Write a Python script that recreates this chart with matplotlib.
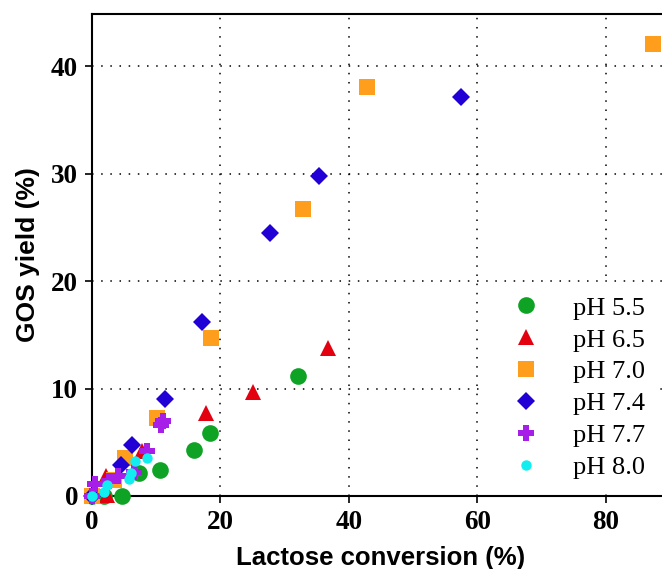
import matplotlib
matplotlib.use("Agg")
from matplotlib import pyplot as plt

# data: (lactose conversion %, GOS yield %)
x_55 = [0.0, 1.8, 4.6, 7.3, 10.6, 15.9, 18.4, 32.0]
y_55 = [0.0, 0.0, 0.0, 2.1, 2.4, 4.3, 5.9, 11.2]

x_65 = [0.0, 2.4, 2.1, 7.8, 17.7, 25.0, 36.8]
y_65 = [0.0, 0.1, 1.9, 4.2, 7.7, 9.7, 13.8]

x_70 = [0.0, 3.5, 5.1, 10.1, 18.6, 32.8, 42.8, 87.4]
y_70 = [0.0, 1.5, 3.5, 7.3, 14.7, 26.7, 38.1, 42.1]

x_74 = [0.0, 4.5, 6.3, 11.4, 17.2, 27.7, 35.4, 57.4]
y_74 = [0.0, 2.9, 4.7, 9.0, 16.2, 24.5, 29.8, 37.1]

x_77 = [0.0, 0.5, 2.6, 4.0, 6.6, 8.5, 10.8, 11.1]
y_77 = [0.0, 1.1, 1.4, 1.9, 2.2, 4.2, 6.6, 7.0]

x_80 = [0.0, 1.8, 2.4, 5.8, 6.0, 6.7, 8.5]
y_80 = [0.0, 0.4, 1.0, 1.6, 2.1, 3.3, 3.5]

labels = ['pH 5.5', 'pH 6.5', 'pH 7.0', 'pH 7.4', 'pH 7.7', 'pH 8.0']

fig = plt.figure(figsize=(6.62, 5.69), dpi=100)
ax = fig.add_axes([0.139, 0.1283, 0.873, 0.847])

series = [
    (x_55, y_55, 'o', '#0fa325', 12),
    (x_65, y_65, '^', '#e3000f', 12),
    (x_70, y_70, 's', '#ff9d1c', 11),
    (x_74, y_74, 'D', '#2100d6', 9.5),
    (x_77, y_77, 'P', '#a61ee8', 12),
    (x_80, y_80, 'o', '#12eef0', 7.5),
]
for (xs, ys, m, c, ms), lab in zip(series, labels):
    ax.plot(xs, ys, linestyle='none', marker=m, color=c, markersize=ms,
            markeredgewidth=0, label=lab, clip_on=False, zorder=3)

ax.set_xlim(0, 90)
ax.set_ylim(0, 44.85)
ax.set_xticks([0, 20, 40, 60, 80])
ax.set_yticks([0, 10, 20, 30, 40])

ax.grid(True, color='black', linestyle=(0, (1, 5)), linewidth=1.1)
ax.set_axisbelow(True)

for s in ['left', 'top', 'bottom']:
    ax.spines[s].set_linewidth(1.5)
ax.spines['right'].set_visible(False)

ax.tick_params(direction='out', length=5, width=1.2, pad=5)
for t in ax.get_xticklabels() + ax.get_yticklabels():
    t.set_fontfamily('Liberation Serif')
    t.set_fontweight('bold')
    t.set_fontsize(19.5)

ax.set_xlabel('Lactose conversion (%)', fontfamily='Liberation Sans',
              fontweight='bold', fontsize=18.5, labelpad=8)
ax.set_ylabel('GOS yield (%)', fontfamily='Liberation Sans',
              fontweight='bold', fontsize=19, labelpad=8)

leg = ax.legend(loc='upper left', bbox_to_anchor=(0.682, 0.442),
                prop={'family': 'Liberation Serif', 'size': 19},
                frameon=True, fancybox=False, edgecolor='none',
                facecolor='white', framealpha=1, labelspacing=0.32,
                handletextpad=0.8, borderpad=0.5, borderaxespad=0)

fig.savefig('out.png', dpi=100)
